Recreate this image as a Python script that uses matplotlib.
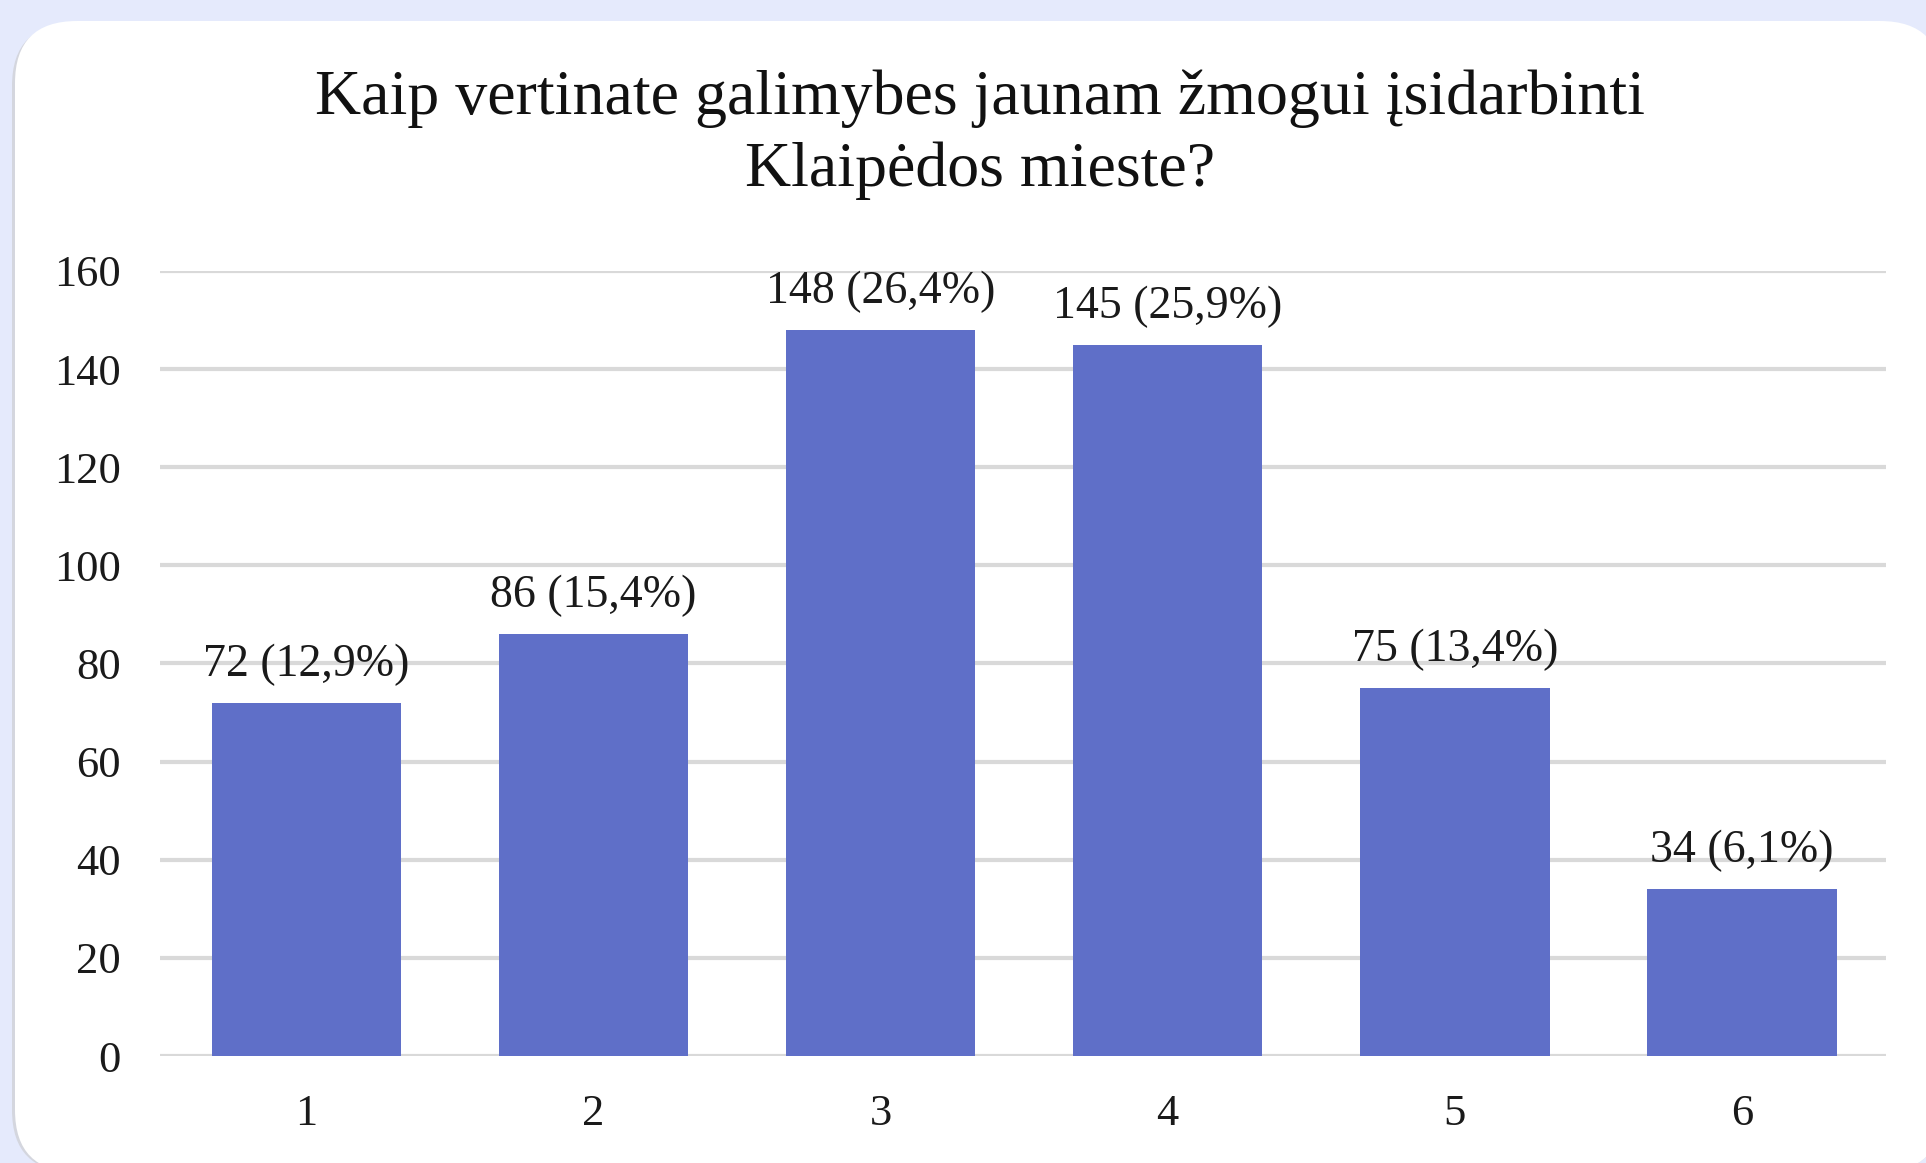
import matplotlib.pyplot as plt
from matplotlib.patches import FancyBboxPatch

# ---data
categories = ['1', '2', '3', '4', '5', '6']
counts = [72, 86, 148, 145, 75, 34]
shares = ['12,9', '15,4', '26,4', '25,9', '13,4', '6,1']
title = 'Kaip vertinate galimybes jaunam žmogui įsidarbinti\nKlaipėdos mieste?'

plt.rcParams['font.family'] = ['Liberation Serif', 'DejaVu Serif']

W, H = 1926, 1163
fig = plt.figure(figsize=(W / 100, H / 100), dpi=100)
fig.patch.set_facecolor('#E5EAFC')

# white card with rounded corners (pixel coords)
shadow = FancyBboxPatch((12, -9), 1930, H - 21 + 9 - 3, boxstyle='round,pad=0,rounding_size=62',
                        transform=None, facecolor='#D4D6DE', edgecolor='none', zorder=-2)
card = FancyBboxPatch((15, -9), 1927, H - 21 + 9, boxstyle='round,pad=0,rounding_size=62',
                      transform=None, facecolor='white', edgecolor='none', zorder=-1)
fig.patches.extend([shadow, card])

ax = fig.add_axes([0.083, 0.092, 0.896, 0.675])
ax.set_zorder(2)
ax.set_facecolor('none')
x = range(1, len(categories) + 1)
ax.bar(x, counts, width=0.66, color='#5F6FC8', zorder=3)
for xi, c, s in zip(x, counts, shares):
    ax.annotate(f'{c} ({s}%)', (xi, c), xytext=(0, 12), textcoords='offset points',
                ha='center', va='bottom', fontsize=33, color='#1a1a1a', zorder=4)

ax.set_xlim(0.49, 6.5)
ax.set_ylim(0, 160)
ax.set_yticks(range(0, 161, 20))
ax.set_xticks(list(x))
ax.set_xticklabels(categories)
ax.grid(axis='y', color='#D9D9D9', linewidth=3, zorder=0)
ax.set_axisbelow(True)
for sp in ax.spines.values():
    sp.set_visible(False)
ax.tick_params(length=0, labelsize=32, labelcolor='#1a1a1a')
ax.tick_params(axis='y', pad=28)
ax.tick_params(axis='x', pad=27)

fig.text(0.509, 0.884, title, ha='center', va='center', fontsize=46,
         color='#111111', linespacing=1.3, zorder=3)

fig.savefig('out.png', dpi=100, facecolor=fig.get_facecolor())
